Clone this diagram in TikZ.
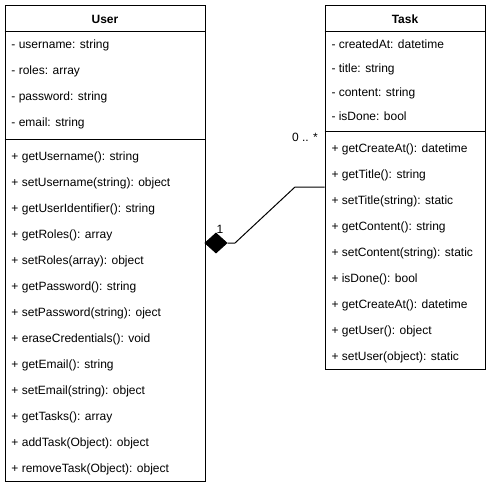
\documentclass[tikz,border=0pt]{standalone}
\usepackage{fontspec}
\setmainfont{Liberation Sans}
\usetikzlibrary{calc}
\usetikzlibrary{shapes.geometric}
\tikzstyle{umlbox}=[draw,line width=1pt,fill=white,inner sep=0pt]
\tikzstyle{headtext}=[font=\fontsize{12}{14}\selectfont\bfseries,inner sep=0pt,text height=8.6pt,text depth=0pt]
\tikzstyle{rowtext}=[anchor=west,font=\fontsize{12}{14}\selectfont,inner sep=0pt,text height=8.6pt,text depth=0pt]
\tikzstyle{multtext}=[font=\fontsize{12}{14}\selectfont,inner sep=0pt]
\tikzstyle{composition}=[diamond,draw,fill=black,inner sep=0pt,minimum width=22pt,minimum height=20pt]
\newcommand{\drawrows}[5]{
% #1 = left x, #2 = first row, #3 = row step, #4 = name, #5 = texts
  \foreach \txt [count=\i from 0] in {#5} {
    \node[rowtext] (#4-\i) at (#1, #2 + #3*\i) {\txt};
  }
}

\begin{document}
\begin{tikzpicture}[x=1pt,y=-1pt,line width=1pt]
  \useasboundingbox (0,0) rectangle (491,490);
  % User
  \node[umlbox,minimum width=200pt,minimum height=476pt] (user) at (105,243) {};
  \node[headtext] (userhead) at (105,19) {User};
  \draw (user.west |- 0,31) -- (user.east |- 0,31);
  \draw (user.west |- 0,139) -- (user.east |- 0,139);
  \drawrows{11}{44}{26}{useratt}{- username: string, - roles: array, - password: string, - email: string}
  \drawrows{11}{156}{26}{usermeth}{+ getUsername(): string, + setUsername(string): object,
    + getUserIdentifier(): string, + getRoles(): array, + setRoles(array): object,
    + getPassword(): string, + setPassword(string): oject, + eraseCredentials(): void,
    + getEmail(): string, + setEmail(string): object, + getTasks(): array,
    + addTask(Object): object, + removeTask(Object): object}
  % Task
  \node[umlbox,minimum width=160pt,minimum height=364pt] (task) at (405,187) {};
  \node[headtext] (taskhead) at (405,19) {Task};
  \draw (task.west |- 0,31) -- (task.east |- 0,31);
  \draw (task.west |- 0,131) -- (task.east |- 0,131);
  \drawrows{331}{44}{24}{taskatt}{- createdAt: datetime, - title: string, - content: string, - isDone: bool}
  \drawrows{331}{148}{26}{taskmeth}{+ getCreateAt(): datetime, + getTitle(): string,
    + setTitle(string): static, + getContent(): string, + setContent(string): static,
    + isDone(): bool, + getCreateAt(): datetime, + getUser(): object,
    + setUser(object): static}
  % composition
  \node[composition] (userdiamond) at (216,243) {};
  \coordinate (bendlow) at (235,243);
  \coordinate (bendhigh) at (295,187);
  \draw (userdiamond.east) -- (bendlow) -- (bendhigh) -- (bendhigh -| task.west);
  \node[multtext] (onelabel) at (220,229) {1};
  \node[multtext] (manylabel) at (305,137) {0 .. *};
\end{tikzpicture}
\end{document}
